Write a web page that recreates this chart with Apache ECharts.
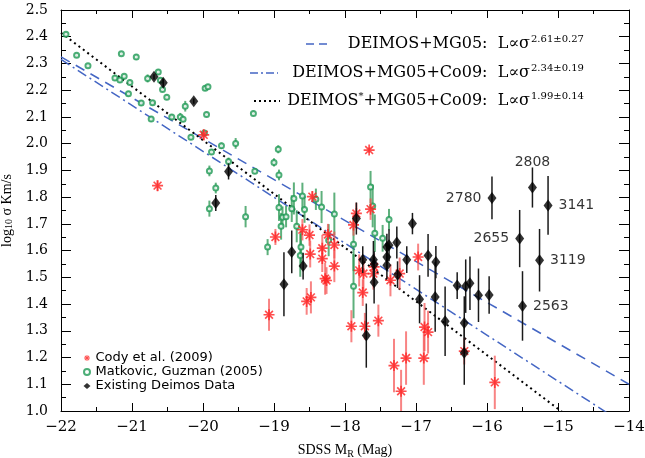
<!DOCTYPE html>
<html><head><meta charset="utf-8">
<script src="https://cdn.jsdelivr.net/npm/echarts@6/dist/echarts.min.js"></script>
<style>html,body{margin:0;padding:0;background:#fff}#c{width:645px;height:458px}</style>
</head><body><div id="c"></div>
<script>
// ---------- DATA ----------
const xTickLabels = ['\u221222','\u221221','\u221220','\u221219','\u221218','\u221217','\u221216','\u221215','\u221214'];
const yTickLabels = ['1.0','1.1','1.2','1.3','1.4','1.5','1.6','1.7','1.8','1.9','2.0','2.1','2.2','2.3','2.4','2.5'];

// fit lines: [M_R, log sigma] end points
const fitDeimosMg05 = [[-22, 2.325], [-14, 1.10]];
const fitDeimosMg05Co09 = [[-22, 2.315], [-14, 0.94]];
const fitDeimosStarMg05Co09 = [[-22, 2.415], [-14, 0.807]];
const fitNames = ['DEIMOS+MG05:', 'DEIMOS+MG05+Co09:', 'DEIMOS*+MG05+Co09:'];
const fitExponents = ['2.61\u00b10.27', '2.34\u00b10.19', '1.99\u00b10.14'];

// Matkovic & Guzman (2005): [M_R, log sigma, error]
const matkovicGuzman = [
 [-21.93,2.409,0.008],[-21.78,2.331,0.008],[-21.62,2.291,0.008],[-21.15,2.336,0.008],[-20.94,2.324,0.010],
 [-21.24,2.246,0.010],[-21.17,2.238,0.010],[-21.11,2.252,0.008],[-21.03,2.229,0.010],[-21.05,2.187,0.010],
 [-20.78,2.244,0.015],[-20.63,2.268,0.010],[-20.60,2.237,0.010],[-20.57,2.203,0.010],[-20.51,2.174,0.010],
 [-20.87,2.152,0.010],[-20.71,2.153,0.010],[-20.73,2.092,0.010],[-20.44,2.100,0.010],[-20.32,2.100,0.015],
 [-20.28,2.091,0.010],[-20.25,2.140,0.020],[-19.97,2.207,0.010],[-19.93,2.213,0.010],[-19.95,2.109,0.010],
 [-20.17,2.024,0.010],[-19.98,2.040,0.010],[-19.88,1.969,0.010],[-19.74,1.992,0.012],[-19.54,2.001,0.020],
 [-19.64,1.933,0.015],[-19.91,1.898,0.020],[-19.82,1.834,0.020],[-19.91,1.757,0.030],[-19.40,1.727,0.040],
 [-19.29,2.113,0.010],[-18.94,1.979,0.015],[-19.00,1.930,0.015],[-18.93,1.883,0.020],[-19.27,1.897,0.010],
 [-19.09,1.613,0.030],[-18.93,1.761,0.050],[-18.90,1.691,0.050],[-18.88,1.725,0.040],[-18.83,1.727,0.040],
 [-18.75,1.757,0.050],[-18.72,1.795,0.060],[-18.57,1.754,0.050],[-18.60,1.804,0.050],[-18.68,1.691,0.060],
 [-18.62,1.613,0.060],[-18.63,1.582,0.080],[-18.33,1.763,0.060],[-18.15,1.737,0.080],[-17.64,1.838,0.060],
 [-17.61,1.767,0.080],[-18.23,1.639,0.060],[-17.88,1.624,0.100],[-17.88,1.467,0.120],[-17.47,1.646,0.050],
 [-17.38,1.716,0.040],[-18.41,1.792,0.040],[-17.58,1.665,0.070]
];

// Cody et al. (2009): [M_R, log sigma, error]
const cody2009 = [
 [-19.99,2.033,0.02],[-20.64,1.843,0.02],[-18.98,1.651,0.03],[-18.60,1.678,0.04],[-18.50,1.658,0.04],
 [-18.46,1.802,0.02],[-17.66,1.976,0.01],[-17.64,1.755,0.04],[-18.32,1.609,0.05],[-18.32,1.570,0.05],
 [-18.49,1.587,0.05],[-18.15,1.621,0.05],[-18.15,1.542,0.06],[-18.28,1.495,0.06],[-18.26,1.488,0.05],
 [-18.54,1.410,0.05],[-18.48,1.425,0.06],[-18.24,1.660,0.04],[-17.84,1.739,0.04],[-17.88,1.696,0.04],
 [-17.80,1.526,0.06],[-17.74,1.514,0.06],[-17.60,1.514,0.06],[-17.59,1.539,0.05],[-17.36,1.489,0.06],
 [-17.75,1.443,0.05],[-17.23,1.514,0.06],[-16.32,1.224,0.05],[-15.89,1.107,0.10],[-17.91,1.317,0.06],
 [-17.72,1.317,0.05],[-17.53,1.338,0.06],[-17.14,1.198,0.10],[-16.89,1.198,0.10],[-17.31,1.170,0.10],
 [-17.21,1.074,0.08],[-16.88,1.314,0.09],[-16.83,1.295,0.08],[-16.97,1.576,0.05],[-19.07,1.360,0.06]
];

// Existing DEIMOS data: [M_R, log sigma, error]
const deimosExisting = [
 [-20.69,2.250,0.010],[-20.56,2.228,0.015],[-20.13,2.159,0.010],[-19.64,1.896,0.030],[-19.82,1.778,0.030],
 [-18.75,1.595,0.080],[-18.86,1.474,0.120],[-18.59,1.542,0.050],[-17.84,1.720,0.060],[-17.75,1.566,0.050],
 [-17.60,1.566,0.070],[-17.59,1.548,0.050],[-17.59,1.482,0.080],[-17.41,1.613,0.050],[-17.38,1.620,0.060],
 [-17.41,1.576,0.050],[-17.41,1.545,0.050],[-17.27,1.630,0.060],[-17.26,1.510,0.050],[-17.13,1.566,0.050],
 [-17.05,1.701,0.040],[-16.83,1.582,0.080],[-16.72,1.557,0.060],[-16.95,1.418,0.090],[-16.73,1.426,0.130],
 [-16.59,1.336,0.130],[-16.32,1.329,0.100],[-16.32,1.218,0.120],[-16.42,1.469,0.050],[-16.30,1.467,0.100],
 [-16.24,1.478,0.100],[-16.12,1.433,0.100],[-15.97,1.434,0.070],[-17.70,1.282,0.120]
];
// labelled DEIMOS objects
const deimosLabelIds = ['2780','2808','3141','2655','3119','2563'];
const deimosLabelled = [
 [-15.93,1.797,0.080],[-15.36,1.836,0.075],[-15.14,1.769,0.110],[-15.54,1.645,0.107],[-15.26,1.564,0.117],[-15.50,1.393,0.130]
];

// ---------- CHART ----------
const starPath = 'path://M-10,-1.5L10,-1.5L10,1.5L-10,1.5Z M-1.5,-10L1.5,-10L1.5,10L-1.5,10Z M-6.01,-8.13L8.13,6.01L6.01,8.13L-8.13,-6.01Z M-8.13,6.01L6.01,-8.13L8.13,-6.01L-6.01,8.13Z';
const serif = 'Liberation Serif';
const wideSerif = 'DejaVu Serif';
const labelPlacement = {'2780':'left','2808':'top','3141':'right','2655':'left','3119':'right','2563':'right'};

function errRender(color, width) {
  return function (params, api) {
    const x = api.value(0), y = api.value(1), e = api.value(2);
    const p1 = api.coord([x, y + e]), p2 = api.coord([x, y - e]);
    return {type: 'line', shape: {x1: p1[0], y1: p1[1], x2: p2[0], y2: p2[1]},
      style: {stroke: color, lineWidth: width}};
  };
}

const axisCommon = {
  axisLine: {show: true, lineStyle: {color: '#000', width: 1}},
  splitLine: {show: false},
  minorSplitLine: {show: false}
};
function xAx(pos, showLabel) {
  return Object.assign({}, axisCommon, {
    type: 'value', position: pos, min: -22, max: -14, interval: 1,
    axisTick: {show: true, inside: true, length: 8, lineStyle: {color: '#000'}},
    minorTick: {show: true, splitNumber: 2, length: 4, lineStyle: {color: '#000'}},
    axisLabel: {show: showLabel, margin: 9, color: '#000', fontFamily: wideSerif, fontSize: 15,
      formatter: v => xTickLabels[Math.round(v + 22)]},
  });
}
function yAx(pos, showLabel) {
  return Object.assign({}, axisCommon, {
    type: 'value', position: pos, min: 1.0, max: 2.5, interval: 0.1,
    axisTick: {show: true, inside: true, length: 10, lineStyle: {color: '#000'}},
    minorTick: {show: true, splitNumber: 2, length: 5, lineStyle: {color: '#000'}},
    axisLabel: {show: showLabel, margin: 13, color: '#000', fontFamily: wideSerif, fontSize: 14,
      formatter: v => yTickLabels[Math.round((v - 1.0) * 10)]},
  });
}

const xBottom = xAx('bottom', true);
xBottom.name = '{a|SDSS M}{b|R}{a| (Mag)}';
xBottom.nameLocation = 'middle';
xBottom.nameGap = 30;
xBottom.nameTextStyle = {rich: {a: {fontFamily: serif, fontSize: 14, color: '#000', lineHeight: 18},
  b: {fontFamily: serif, fontSize: 10, color: '#000', verticalAlign: 'bottom', lineHeight: 12}}};
const yLeft = yAx('left', true);
yLeft.name = '{a|log}{b|10}{a| \u03c3 Km/s}';
yLeft.nameLocation = 'middle';
yLeft.nameGap = 46;
yLeft.nameRotate = 90;
yLeft.nameTextStyle = {rich: {a: {fontFamily: serif, fontSize: 14, color: '#000', lineHeight: 16},
  b: {fontFamily: serif, fontSize: 10, color: '#000', verticalAlign: 'bottom', lineHeight: 12}}};

const blue = '#4466c4';
const green = '#1f9a55';
const red = '#ff2222';

// ----- fit legend (top right), built from text measurement -----
const mctx = document.createElement('canvas').getContext('2d');
function tw(text, font) { mctx.font = font; return mctx.measureText(text).width; }
const mainFont = '16px "' + wideSerif + '"';
const supFont = '10px "' + wideSerif + '"';
const sigmaEnd = 530;
const rowY = [44, 73, 101];
const keyX = [[306, 332], [250, 278], [254, 280]];
const keyStyle = [
  {stroke: blue, lineWidth: 1.5, lineDash: [8, 5]},
  {stroke: blue, lineWidth: 1.5, lineDash: [8, 3, 2, 3]},
  {stroke: '#000', lineWidth: 2, lineDash: [2, 3]}
];
const graphics = [];
fitNames.forEach((nm, i) => {
  const y = rowY[i];
  graphics.push({type: 'line', shape: {x1: keyX[i][0], y1: y, x2: keyX[i][1], y2: y}, style: keyStyle[i]});
  const parts = nm.split('*');
  const tail = '  L\u221d\u03c3';
  let pieces = [];
  if (parts.length === 2) {
    pieces = [[parts[0], mainFont, 0], ['*', supFont, -5], [parts[1] + tail, mainFont, 0]];
  } else {
    pieces = [[nm + tail, mainFont, 0]];
  }
  const total = pieces.reduce((s, p) => s + tw(p[0], p[1]), 0);
  let x = sigmaEnd - total;
  pieces.forEach(p => {
    graphics.push({type: 'text', x: x, y: y + p[2], style: {text: p[0], font: p[1], fill: '#000', verticalAlign: 'middle'}});
    x += tw(p[0], p[1]);
  });
  graphics.push({type: 'text', x: sigmaEnd + 1, y: y - 5, style: {text: fitExponents[i], font: supFont, fill: '#000', verticalAlign: 'middle'}});
});

const chart = echarts.init(document.getElementById('c'), null, {renderer: 'canvas'});
chart.setOption({
  animation: false,
  backgroundColor: '#fff',
  grid: {left: 61, right: 16, top: 10, bottom: 47, containLabel: false, outerBoundsMode: 'none'},
  xAxis: [xBottom, xAx('top', false)],
  yAxis: [yLeft, yAx('right', false)],
  legend: {
    data: ['Cody et al. (2009)', 'Matkovic, Guzman (2005)', 'Existing Deimos Data'],
    orient: 'vertical', left: 78, top: 346, itemGap: 0, itemWidth: 7, itemHeight: 6,
    textStyle: {fontFamily: 'DejaVu Sans', fontSize: 13, color: '#000', padding: [0, 0, 0, 0], lineHeight: 14},
    selectedMode: false
  },
  graphic: graphics,
  series: [
    {type: 'line', data: fitDeimosMg05, symbol: 'none', silent: true, z: 1,
      lineStyle: {color: blue, width: 1.5, type: [10, 7]}},
    {type: 'line', data: fitDeimosMg05Co09, symbol: 'none', silent: true, z: 1,
      lineStyle: {color: blue, width: 1.5, type: [10, 4, 2, 4]}},
    {type: 'line', data: fitDeimosStarMg05Co09, symbol: 'none', silent: true, z: 1,
      lineStyle: {color: '#000', width: 2, type: [2, 3.5]}},
    {type: 'custom', clip: true, data: matkovicGuzman, renderItem: errRender('rgba(40,150,80,0.75)', 2), z: 2},
    {type: 'scatter', name: 'Matkovic, Guzman (2005)', data: matkovicGuzman, symbol: 'emptyCircle', symbolSize: 5,
      itemStyle: {color: green, borderColor: green, borderWidth: 1}, z: 3},
    {type: 'custom', clip: true, data: cody2009, renderItem: errRender('rgba(245,80,80,0.7)', 2), z: 4},
    {type: 'scatter', name: 'Cody et al. (2009)', data: cody2009, symbol: starPath, symbolSize: 11,
      itemStyle: {color: red}, z: 5},
    {type: 'custom', clip: true, data: deimosExisting.concat(deimosLabelled), renderItem: errRender('#1a1a1a', 1.5), z: 6},
    {type: 'scatter', name: 'Existing Deimos Data', data: deimosExisting, symbol: 'diamond', symbolSize: [9, 12],
      itemStyle: {color: '#000'}, z: 7},
    {type: 'scatter', name: 'deimosLabelled', data: deimosLabelled.map((d, i) => ({
        value: d, name: deimosLabelIds[i],
        label: {position: labelPlacement[deimosLabelIds[i]], distance: deimosLabelIds[i] === '2808' ? 12 : 6}})),
      symbol: 'diamond', symbolSize: [9, 12], itemStyle: {color: '#000'}, z: 7,
      label: {show: true, formatter: p => p.name, color: '#000', fontFamily: 'DejaVu Sans', fontSize: 14}}
  ]
});
</script></body></html>
